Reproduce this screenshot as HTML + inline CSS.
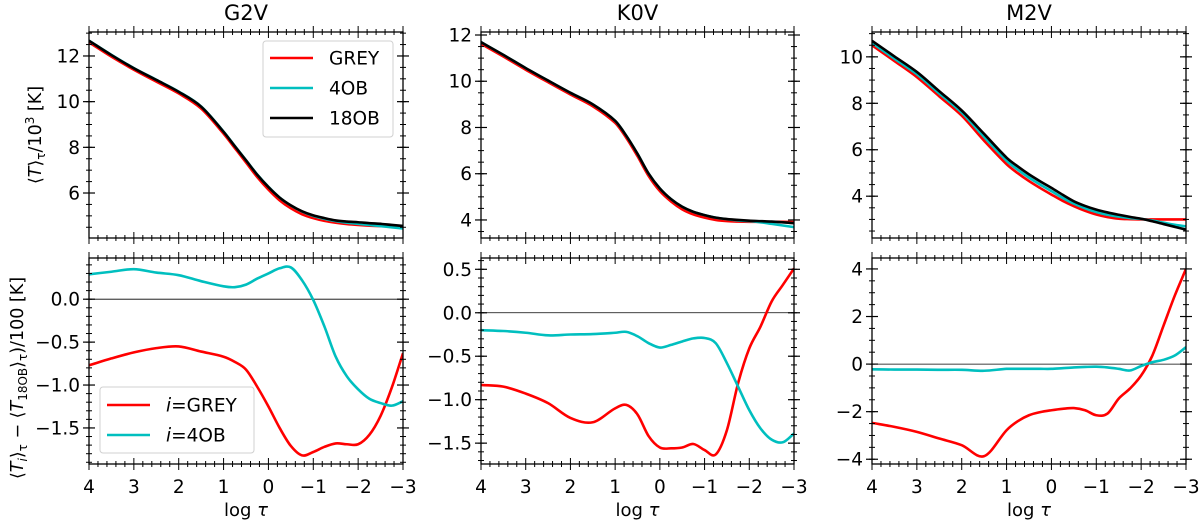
<!DOCTYPE html>
<html><head><meta charset="utf-8">
<style>
html,body{margin:0;padding:0;background:#fff;}
svg{display:block;font-family:"DejaVu Sans","Liberation Sans",sans-serif;}
</style></head>
<body>
<svg id="fig" width="1200" height="524" viewBox="0 0 1200 524" xmlns="http://www.w3.org/2000/svg"></svg>
<script>
// ---- data ----
const xs = [4,3.5,3,2.5,2,1.5,1,0.75,0.5,0.25,0,-0.25,-0.5,-0.75,-1,-1.25,-1.5,-1.75,-2,-2.25,-2.5,-2.75,-3];
// top panels (T/10^3)
const g2vBlack = [12.67,12.04,11.46,10.95,10.43,9.78,8.68,8.05,7.43,6.8,6.26,5.8,5.46,5.2,5.02,4.9,4.8,4.75,4.72,4.68,4.65,4.6,4.56];
const g2vRed   = [12.6,11.97,11.4,10.88,10.36,9.7,8.6,7.97,7.34,6.7,6.15,5.68,5.33,5.07,4.9,4.78,4.7,4.64,4.6,4.57,4.55,4.54,4.53];
const g2vCyan  = [12.67,12.05,11.47,10.96,10.44,9.79,8.69,8.06,7.44,6.81,6.27,5.8,5.45,5.19,5.0,4.87,4.77,4.7,4.65,4.6,4.55,4.5,4.45];
const k0vBlack = [11.69,11.14,10.57,10.03,9.5,9.0,8.29,7.64,6.86,6.0,5.36,4.9,4.57,4.35,4.21,4.1,4.04,4.0,3.97,3.95,3.93,3.9,3.86];
const k0vRed   = [11.62,11.07,10.5,9.96,9.43,8.92,8.2,7.55,6.76,5.9,5.25,4.8,4.46,4.24,4.1,4.0,3.95,3.93,3.92,3.92,3.92,3.92,3.91];
const k0vCyan  = [11.69,11.14,10.57,10.03,9.5,9.0,8.29,7.64,6.86,6.0,5.36,4.9,4.57,4.35,4.21,4.1,4.03,3.98,3.95,3.9,3.83,3.76,3.69];
const m2vBlack = [10.69,10.02,9.35,8.52,7.69,6.68,5.66,5.28,4.94,4.64,4.36,4.06,3.78,3.58,3.42,3.3,3.2,3.11,3.03,2.92,2.8,2.68,2.56];
const m2vRed   = [10.5,9.82,9.13,8.3,7.47,6.39,5.38,4.99,4.65,4.35,4.07,3.8,3.57,3.37,3.21,3.1,3.03,3.01,3.0,3.0,3.0,3.0,3.0];
const m2vCyan  = [10.6,9.92,9.25,8.42,7.6,6.55,5.53,5.14,4.8,4.5,4.22,3.93,3.68,3.48,3.32,3.2,3.12,3.06,3.02,2.95,2.86,2.77,2.7];
// bottom panels (difference /100)
const g2vDGrey = [-0.77,-0.69,-0.62,-0.57,-0.55,-0.61,-0.67,-0.73,-0.82,-1.02,-1.25,-1.5,-1.71,-1.82,-1.78,-1.72,-1.68,-1.69,-1.69,-1.58,-1.36,-1.03,-0.63];
const g2vD4ob  = [0.29,0.32,0.35,0.31,0.28,0.21,0.15,0.14,0.17,0.24,0.30,0.36,0.37,0.22,-0.01,-0.32,-0.67,-0.9,-1.05,-1.16,-1.21,-1.24,-1.19];
const k0vDGrey = [-0.83,-0.85,-0.93,-1.04,-1.21,-1.26,-1.1,-1.06,-1.17,-1.42,-1.55,-1.56,-1.55,-1.51,-1.58,-1.63,-1.35,-0.81,-0.41,-0.16,0.13,0.32,0.51];
const k0vD4ob  = [-0.2,-0.21,-0.23,-0.26,-0.25,-0.245,-0.23,-0.22,-0.27,-0.35,-0.4,-0.37,-0.33,-0.295,-0.29,-0.35,-0.58,-0.85,-1.12,-1.33,-1.46,-1.49,-1.39];
const m2vDGrey = [-2.47,-2.64,-2.85,-3.13,-3.41,-3.87,-2.78,-2.4,-2.15,-2.02,-1.94,-1.88,-1.85,-1.94,-2.15,-2.08,-1.45,-1.03,-0.48,0.36,1.62,2.88,4.0];
const m2vD4ob  = [-0.22,-0.23,-0.23,-0.24,-0.24,-0.28,-0.2,-0.2,-0.2,-0.2,-0.2,-0.17,-0.14,-0.12,-0.11,-0.14,-0.2,-0.27,-0.08,0.08,0.18,0.36,0.71];
const titles = ["G2V","K0V","M2V"];
const xTicks = [4,3,2,1,0,-1,-2,-3];
const topTicks = [[6,8,10,12],[4,6,8,10,12],[4,6,8,10]];
const botTicks = [[-1.5,-1.0,-0.5,0.0],[-1.5,-1.0,-0.5,0.0,0.5],[-4,-2,0,2,4]];
const botTickLabels = [["\u22121.5","\u22121.0","\u22120.5","0.0"],["\u22121.5","\u22121.0","\u22120.5","0.0","0.5"],["\u22124","\u22122","0","2","4"]];

// ---- layout ----
const svg = document.getElementById('fig');
const NS = 'http://www.w3.org/2000/svg';
const colX = [[89,403],[481,794],[872,1186]];
const rowT = [32,238], rowB = [258,464];
const topRange = [[4.03,13.05],[3.22,12.13],[2.2,11.07]];
const botRange = [[-1.92,0.48],[-1.74,0.63],[-4.2,4.46]];
function mk(tag, attrs, parent){const e=document.createElementNS(NS,tag);for(const k in attrs)e.setAttribute(k,attrs[k]);(parent||svg).appendChild(e);return e;}
function fmt(v){return v<0?"\u2212"+Math.abs(v):String(v);}
function smoothPath(pts){
  const n=pts.length, m=[];
  for(let i=0;i<n;i++){
    const a=pts[Math.max(0,i-1)], b=pts[Math.min(n-1,i+1)];
    m.push((b[1]-a[1])/(b[0]-a[0]));
  }
  let d="M"+pts[0][0].toFixed(2)+","+pts[0][1].toFixed(2);
  for(let i=0;i<n-1;i++){
    const p1=pts[i],p2=pts[i+1],dx=(p2[0]-p1[0])/3;
    d+="C"+(p1[0]+dx).toFixed(2)+","+(p1[1]+m[i]*dx).toFixed(2)+" "+(p2[0]-dx).toFixed(2)+","+(p2[1]-m[i+1]*dx).toFixed(2)+" "+p2[0].toFixed(2)+","+p2[1].toFixed(2);
  }
  return d;
}
function panel(name, cx, ry, yr, majors, majorLabels, minorStep, showXLabels, series, zeroLine){
  const g = mk('g',{});
  
  
  const X = v => cx[0] + (4 - v) / 7 * (cx[1]-cx[0]);
  const Y = v => ry[1] - (v - yr[0]) / (yr[1]-yr[0]) * (ry[1]-ry[0]);
  const cp = mk('clipPath',{id:'cp-'+name},g);
  mk('rect',{x:cx[0],y:ry[0],width:cx[1]-cx[0],height:ry[1]-ry[0]},cp);
  if(zeroLine){
    const zl = mk('line',{x1:cx[0],x2:cx[1],y1:Y(0),y2:Y(0),stroke:'#000','stroke-width':0.8},g);
    
    
  }
  for(const s of series){
    const pts = xs.map((x,i)=>[X(x),Y(s.vals[i])]);
    const p = mk('path',{d:smoothPath(pts),fill:'none',stroke:s.color,'stroke-width':2.6,'clip-path':'url(#cp-'+name+')','stroke-linejoin':'round'},g);
    
    
  }
  for(let v=-3; v<=4.001; v+=0.2){
    const x=X(v); const major=Math.abs(v-Math.round(v))<1e-6; const L=major?6:3;
    mk('line',{x1:x,x2:x,y1:ry[1]-L,y2:ry[1]+L,stroke:'#000','stroke-width':1},g);
    mk('line',{x1:x,x2:x,y1:ry[0]-L,y2:ry[0]+L,stroke:'#000','stroke-width':1},g);
  }
  const start=Math.ceil(yr[0]/minorStep)*minorStep;
  for(let v=start; v<=yr[1]; v+=minorStep){
    const y=Y(v);
    mk('line',{x1:cx[0]-3,x2:cx[0]+3,y1:y,y2:y,stroke:'#000','stroke-width':1},g);
    mk('line',{x1:cx[1]-3,x2:cx[1]+3,y1:y,y2:y,stroke:'#000','stroke-width':1},g);
  }
  majors.forEach((v,i)=>{
    const y=Y(v);
    mk('line',{x1:cx[0]-6,x2:cx[0]+6,y1:y,y2:y,stroke:'#000','stroke-width':1.2},g);
    mk('line',{x1:cx[1]-6,x2:cx[1]+6,y1:y,y2:y,stroke:'#000','stroke-width':1.2},g);
    const t=mk('text',{x:cx[0]-9,y:y+6.5,'text-anchor':'end','font-size':18.5},g);
    t.textContent=majorLabels[i];
    
    
  });
  if(showXLabels){
    xTicks.forEach(v=>{
      const t=mk('text',{x:X(v),y:ry[1]+29,'text-anchor':'middle','font-size':18.5},g);
      t.textContent=fmt(v);
      
      
    });
    const xl=mk('text',{x:(cx[0]+cx[1])/2,y:ry[1]+52,'text-anchor':'middle','font-size':18},g);
    xl.innerHTML='log <tspan font-style="italic">τ</tspan>';
    
    
  }
  mk('rect',{x:cx[0],y:ry[0],width:cx[1]-cx[0],height:ry[1]-ry[0],fill:'none',stroke:'#000','stroke-width':1.3},g);
  return {X,Y,g};
}
const RED='#ff0000', CYAN='#00bfbf', BLACK='#000000';
const tops=[[g2vRed,g2vCyan,g2vBlack],[k0vRed,k0vCyan,k0vBlack],[m2vRed,m2vCyan,m2vBlack]];
const bots=[[g2vDGrey,g2vD4ob],[k0vDGrey,k0vD4ob],[m2vDGrey,m2vD4ob]];
for(let c=0;c<3;c++){
  const tn=titles[c].toLowerCase();
  panel(tn+'-temperature-panel',colX[c],rowT,topRange[c],topTicks[c],topTicks[c].map(String),0.5,false,
    [{name:tn+'-grey-line',color:RED,vals:tops[c][0]},{name:tn+'-4ob-line',color:CYAN,vals:tops[c][1]},{name:tn+'-18ob-line',color:BLACK,vals:tops[c][2]}],false);
  panel(tn+'-difference-panel',colX[c],rowB,botRange[c],botTicks[c],botTickLabels[c],c==2?0.5:0.1,true,
    [{name:tn+'-grey-diff-line',color:RED,vals:bots[c][0]},{name:tn+'-4ob-diff-line',color:CYAN,vals:bots[c][1]}],true);
  const t=mk('text',{x:(colX[c][0]+colX[c][1])/2,y:20,'text-anchor':'middle','font-size':21});
  t.textContent=titles[c];
  
  
}
const yl1=mk('text',{x:0,y:0,'text-anchor':'middle','font-size':17.5,transform:'translate(41,135) rotate(-90)'});
yl1.innerHTML='⟨<tspan font-style="italic">T</tspan>⟩<tspan font-size="12" dy="4">τ</tspan><tspan dy="-4">/10</tspan><tspan font-size="12" dy="-7">3</tspan><tspan dy="7"> [K]</tspan>';


const yl2=mk('text',{x:0,y:0,'text-anchor':'middle','font-size':17.5,transform:'translate(23,378) rotate(-90)'});
yl2.innerHTML='⟨<tspan font-style="italic">T<tspan font-size="12" dy="4">i</tspan></tspan><tspan dy="-4">⟩</tspan><tspan font-size="12" dy="4">τ</tspan><tspan dy="-4"> − ⟨</tspan><tspan font-style="italic">T</tspan><tspan font-size="12" dy="4">18OB</tspan><tspan dy="-4">⟩</tspan><tspan font-size="12" dy="4">τ</tspan><tspan dy="-4">)/100 [K]</tspan>';


function legend(name,x,y,w,h,entries,y0,dy){
  const g=mk('g',{});
  
  
  mk('rect',{x:x,y:y,width:w,height:h,rx:3,fill:'#fff','fill-opacity':0.85,stroke:'#d0d0d0','stroke-width':1},g);
  entries.forEach((e,i)=>{
    const yy=y0+i*dy;
    const ln=mk('line',{x1:x+7,x2:x+50,y1:yy,y2:yy,stroke:e.color,'stroke-width':2.6},g);
    
    
    const t=mk('text',{x:x+66,y:yy+6.5,'font-size':18.5},g);
    t.innerHTML=e.label;
    
    
  });
}
legend('top-legend',263,41,130,96,[{color:RED,label:'GREY'},{color:CYAN,label:'4OB'},{color:BLACK,label:'18OB'}],58,30);
legend('bottom-legend',100,387,154,66,[{color:RED,label:'<tspan font-style="italic">i</tspan>=GREY'},{color:CYAN,label:'<tspan font-style="italic">i</tspan>=4OB'}],405,30);
</script>
</body></html>
